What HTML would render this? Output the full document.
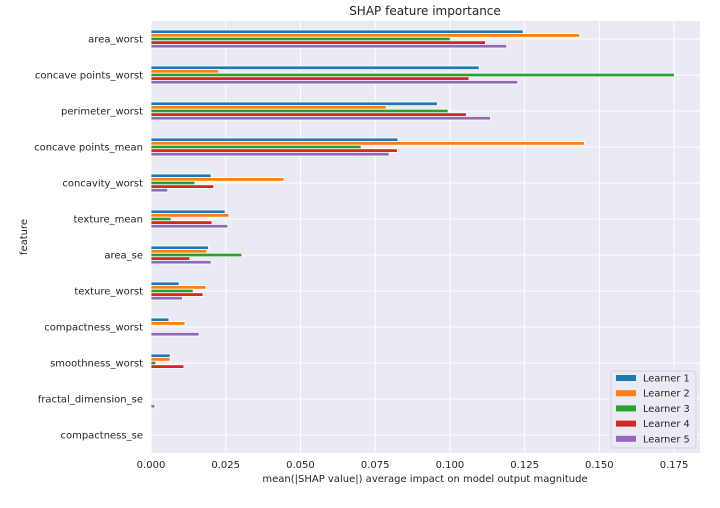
<!DOCTYPE html>
<html><head><meta charset="utf-8"><style>
body{margin:0;background:#fff;font-family:"DejaVu Sans","Liberation Sans",sans-serif;}
svg text{font-family:"DejaVu Sans","Liberation Sans",sans-serif;fill:#262626;}
</style></head><body>
<svg id="chart" width="720" height="504" xmlns="http://www.w3.org/2000/svg">
<rect x="151" y="21" width="549" height="432" fill="#EAEAF2"/>
<g id="grid"></g><g id="bars"></g><g id="ylabels"></g><g id="xlabels"></g>
<text x="425" y="15" font-size="12" text-anchor="middle">SHAP feature importance</text>
<text x="425" y="482" font-size="10" text-anchor="middle">mean(|SHAP value|) average impact on model output magnitude</text>
<text x="27" y="237" font-size="10" text-anchor="middle" transform="rotate(-90 27 237)">feature</text>
<g id="legend"></g>
</svg>
<script>
const categories=["area_worst","concave points_worst","perimeter_worst","concave points_mean","concavity_worst","texture_mean","area_se","texture_worst","compactness_worst","smoothness_worst","fractal_dimension_se","compactness_se"];
const learner1=[0.1245,0.1098,0.0958,0.0826,0.0201,0.0248,0.0192,0.0094,0.0060,0.0064,0.0001,0.0001];
const learner2=[0.1434,0.0227,0.0787,0.1450,0.0445,0.0261,0.0187,0.0184,0.0114,0.0064,0.0001,0.0001];
const learner3=[0.1001,0.1751,0.0994,0.0703,0.0147,0.0067,0.0304,0.0141,0.0003,0.0016,0.0001,0.0001];
const learner4=[0.1119,0.1064,0.1055,0.0824,0.0210,0.0204,0.0130,0.0174,0.0001,0.0110,0.0001,0.0001];
const learner5=[0.1190,0.1227,0.1136,0.0797,0.0056,0.0257,0.0201,0.0105,0.0161,0.0003,0.0013,0.0001];
const seriesNames=["Learner 1","Learner 2","Learner 3","Learner 4","Learner 5"];
const xTicks=[0,0.025,0.05,0.075,0.1,0.125,0.15,0.175];
const xTickLabels=["0.000","0.025","0.050","0.075","0.100","0.125","0.150","0.175"];
const series=[learner1,learner2,learner3,learner4,learner5];
const colors=["#1f77b4","#ff7f0e","#2ca02c","#d62728","#9467bd"];
const NS="http://www.w3.org/2000/svg";
const L=151,R=700,T=21,B=453;
const xScale=v=>L+v*2989;
const band=(B-T)/categories.length;
const yCenter=i=>T+band*(i+0.5);
const barH=band*0.1;
function mk(tag,attrs,parent){const e=document.createElementNS(NS,tag);for(const k in attrs)e.setAttribute(k,attrs[k]);parent.appendChild(e);return e;}
const grid=document.getElementById('grid'),bars=document.getElementById('bars'),yl=document.getElementById('ylabels'),xl=document.getElementById('xlabels'),lg=document.getElementById('legend');
xTicks.forEach((t,i)=>{
 const l=mk('line',{x1:xScale(t),x2:xScale(t),y1:T,y2:B,stroke:'#fff','stroke-width':1},grid);
 
 
 const tx=mk('text',{x:xScale(t),y:B+15,'font-size':10,'text-anchor':'middle'},xl);tx.textContent=xTickLabels[i];
 
 
});
categories.forEach((c,i)=>{
 const g=mk('line',{x1:L,x2:R,y1:yCenter(i),y2:yCenter(i),stroke:'#fff','stroke-width':1},grid);
 
 
 const tx=mk('text',{x:143,y:yCenter(i)+3.5,'font-size':10,'text-anchor':'end'},yl);tx.textContent=c;
 
 
 series.forEach((s,k)=>{
  const y=yCenter(i)-2.5*barH+k*barH;
  const r=mk('rect',{x:L,y:y,width:Math.max(0,xScale(s[i])-L),height:barH,fill:colors[k],stroke:'#fff','stroke-width':0.8},bars);
  
  
 });
});
mk('rect',{x:611,y:371,width:85,height:77,rx:3,fill:'#EAEAF2','fill-opacity':0.8,stroke:'#ccc','stroke-width':0.8},lg);
seriesNames.forEach((n,k)=>{
 const y=378+k*15.2;
 const sw=mk('rect',{x:616,y:y-3,width:20,height:6,fill:colors[k]},lg);
 
 
 const t=mk('text',{x:643,y:y+3.5,'font-size':9.8},lg);t.textContent=n;
 
 
});
</script>
</body></html>
